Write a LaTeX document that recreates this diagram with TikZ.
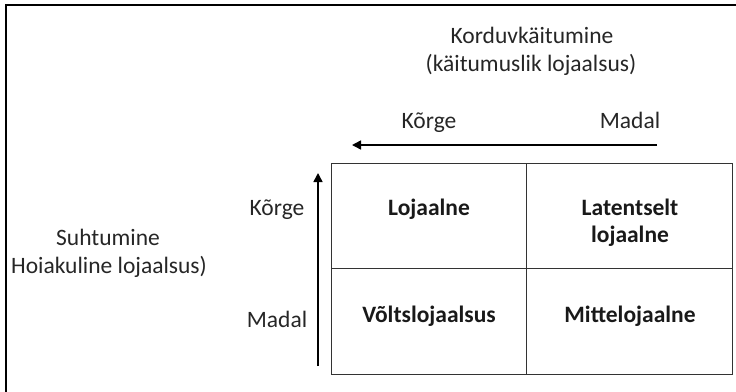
\documentclass[tikz,border=0pt]{standalone}
\usepackage{fontspec}
\setmainfont{Carlito}
\usetikzlibrary{arrows.meta}
\begin{document}
\begin{tikzpicture}[x=1pt,y=-1pt,
  txt/.style={font=\fontsize{23.5}{28}\selectfont, text=black!85, inner sep=0pt, anchor=base},
  boldtxt/.style={font=\fontsize{23.5}{28}\selectfont\bfseries, text=black!90, inner sep=0pt, anchor=base},
  cell/.style={draw=black!80, line width=1pt, inner sep=0pt, anchor=north west},
  axis/.style={draw=black, line width=1.5pt, -{Triangle[length=9pt,width=9pt]}}]
\useasboundingbox (0,0) rectangle (736,391);
% outer frame (cropped on right and bottom)
\draw[line width=2pt] (6,400) -- (6,5) -- (745,5);
% grid cells
\node[cell, minimum width=195pt, minimum height=105pt] (c11) at (331,163) {};
\node[cell, minimum width=206pt, minimum height=105pt] (c12) at (526,163) {};
\node[cell, minimum width=195pt, minimum height=106pt] (c21) at (331,268) {};
\node[cell, minimum width=206pt, minimum height=106pt] (c22) at (526,268) {};
% cell labels
\node[boldtxt] (l11) at (429,215) {Lojaalne};
\node[boldtxt] (l12a) at (630,215) {Latentselt};
\node[boldtxt] (l12b) at (630,242) {lojaalne};
\node[boldtxt] (l21) at (429,322) {Võltslojaalsus};
\node[boldtxt] (l22) at (630,322) {Mittelojaalne};
% axis titles
\node[txt] (xt1) at (532,43) {Korduvkäitumine};
\node[txt] (xt2) at (531,71) {(käitumuslik lojaalsus)};
\node[txt] (xhi) at (429,128) {Kõrge};
\node[txt] (xlo) at (630,128) {Madal};
\node[txt] (yt1) at (108,245) {Suhtumine};
\node[txt] (yt2) at (109,273) {Hoiakuline lojaalsus)};
\node[txt] (yhi) at (277,215) {Kõrge};
\node[txt] (ylo) at (277,327) {Madal};
% axis arrows
\coordinate (ax0) at (657,145);
\coordinate (ax1) at (352,145);
\coordinate (ay0) at (318,366);
\coordinate (ay1) at (318,173);
\draw[axis] (ax0) -- (ax1);
\draw[axis] (ay0) -- (ay1);
\end{tikzpicture}
\end{document}
